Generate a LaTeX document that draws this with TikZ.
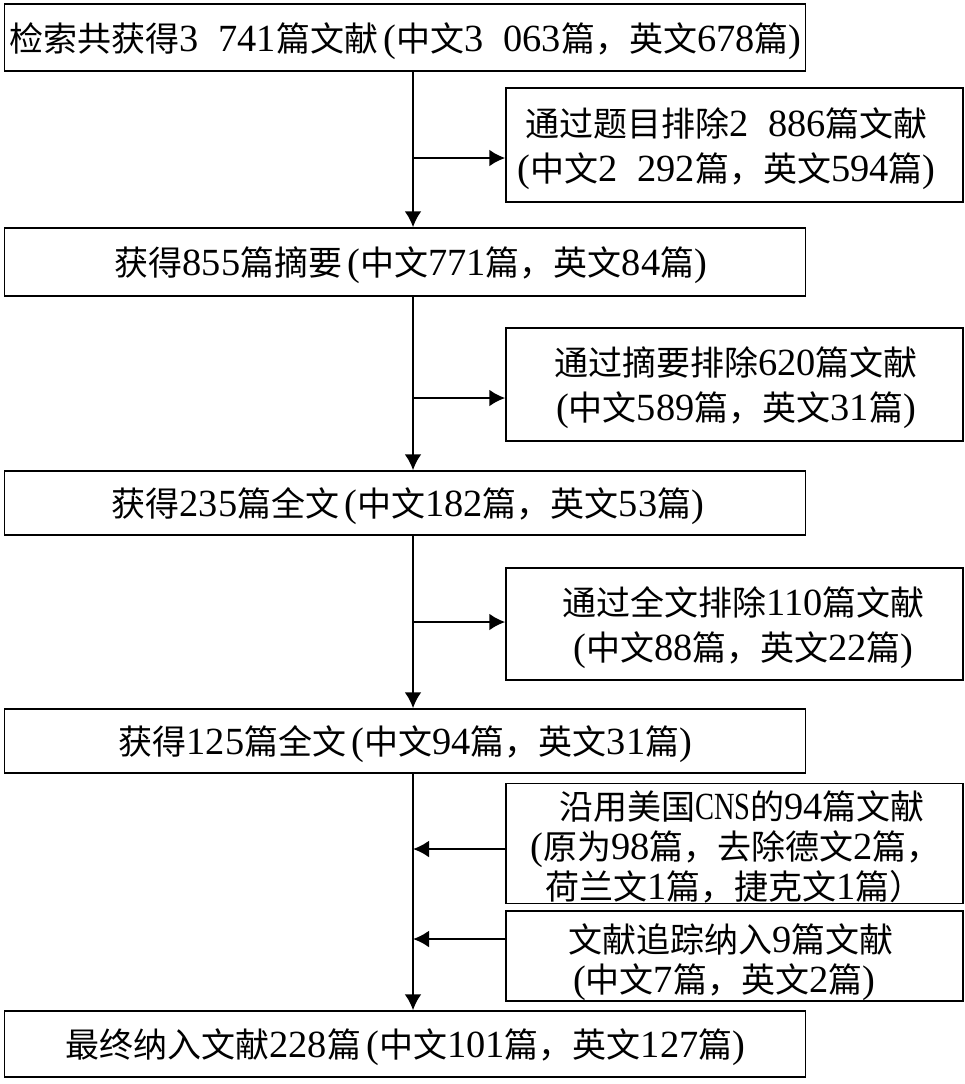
\documentclass[tikz,border=0pt]{standalone}
\usepackage{fontspec}
\setmainfont[Scale=1.13]{Liberation Serif}
\newfontfamily\cjk{Noto Sans CJK SC}
\newcommand{\cn}[1]{{\cjk #1}}
\newcommand{\gap}{\kern20pt}
\newcommand{\lp}{\makebox[18pt][r]{(}}
\newcommand{\rp}{\makebox[18pt][l]{)}}
\newcommand{\nudge}[2]{\hbox{#2\kern#1pt}}
\newcommand{\pad}[1]{\rule{0pt}{#1pt}}
\tikzset{
    mainbox/.style={draw,line width=1.5pt,inner sep=0pt,minimum width=801pt,align=center,font=\fontsize{34}{45}\selectfont},
    sidebox/.style={draw,line width=1.5pt,inner sep=0pt,minimum width=457pt,align=center,font=\fontsize{34}{45}\selectfont},
    tightbox/.style={font=\fontsize{34}{40}\selectfont},
    flow/.style={line width=2.5pt,-{Latex[length=16pt,width=17pt]}}
}
\usetikzlibrary{arrows.meta}
\begin{document}
\begin{tikzpicture}[x=1pt,y=-1pt]
    \useasboundingbox (0,0) rectangle (965,1084);
    \node[mainbox,minimum height=67pt] (found) at (405,37.5) {\pad{36}\nudge{-6}{\cn{检索共获得}3\gap 741\cn{篇文献}\lp\cn{中文}3\gap 063\cn{篇，英文}678\cn{篇}\rp}};
    \node[sidebox,minimum height=114pt] (extitle) at (734.5,145) {\pad{36}\nudge{16}{\cn{通过题目排除}2\gap 886\cn{篇文献}}\\\nudge{16}{\lp\cn{中文}2\gap 292\cn{篇，英文}594\cn{篇}\rp}};
    \node[mainbox,minimum height=68pt] (abstracts) at (405,262) {\pad{36}\nudge{-17}{\cn{获得}855\cn{篇摘要}\lp\cn{中文}771\cn{篇，英文}84\cn{篇}\rp}};
    \node[sidebox,minimum height=113pt] (exabs) at (734.5,384.5) {\pad{36}\nudge{-3}{\cn{通过摘要排除}620\cn{篇文献}}\\\nudge{-3}{\lp\cn{中文}589\cn{篇，英文}31\cn{篇}\rp}};
    \node[mainbox,minimum height=64pt] (full) at (405,503) {\pad{36}\nudge{-11}{\cn{获得}235\cn{篇全文}\lp\cn{中文}182\cn{篇，英文}53\cn{篇}\rp}};
    \node[sidebox,minimum height=112pt] (exfull) at (734.5,624) {\pad{36}\nudge{-18}{\cn{通过全文排除}110\cn{篇文献}}\\\nudge{-18}{\lp\cn{中文}88\cn{篇，英文}22\cn{篇}\rp}};
    \node[mainbox,minimum height=64pt] (kept) at (405,741) {\pad{36}\nudge{-6}{\cn{获得}125\cn{篇全文}\lp\cn{中文}94\cn{篇，英文}31\cn{篇}\rp}};
    \node[sidebox,tightbox,minimum height=119pt] (cns) at (734.5,843.5) {\pad{36}\nudge{-15}{\cn{沿用美国}\scalebox{.74}[1]{CNS}\cn{的}94\cn{篇文献}}\\\nudge{3}{\lp\cn{原为}98\cn{篇，去除德文}2\cn{篇，}}\\\nudge{0}{\cn{荷兰文}1\cn{篇，捷克文}1\cn{篇）}}};
    \node[sidebox,tightbox,minimum height=88pt] (track) at (734.5,956) {\pad{42}\nudge{7}{\cn{文献追踪纳入}9\cn{篇文献}}\\\nudge{21}{\lp\cn{中文}7\cn{篇，英文}2\cn{篇}\rp}};
    \node[mainbox,minimum height=66pt] (final) at (405,1044) {\pad{36}\nudge{-6}{\cn{最终纳入文献}228\cn{篇}\lp\cn{中文}101\cn{篇，英文}127\cn{篇}\rp}};
    \coordinate (tee1) at (413,158);
    \coordinate (tee2) at (413,398);
    \coordinate (tee3) at (413,622);
    \coordinate (tee4) at (413,849);
    \coordinate (tee5) at (413,939);
    % main line
    \draw[flow] (tee1 |- found.south) -- (tee1 |- abstracts.north);
    \draw[flow] (tee2 |- abstracts.south) -- (tee2 |- full.north);
    \draw[flow] (tee3 |- full.south) -- (tee3 |- kept.north);
    \draw[flow] (tee4 |- kept.south) -- (tee4 |- final.north);
    % side arrows
    \draw[flow] (tee1) -- (tee1 -| extitle.west);
    \draw[flow] (tee2) -- (tee2 -| exabs.west);
    \draw[flow] (tee3) -- (tee3 -| exfull.west);
    \draw[flow] (tee4 -| cns.west) -- (tee4);
    \draw[flow] (tee5 -| track.west) -- (tee5);
\end{tikzpicture}
\end{document}
